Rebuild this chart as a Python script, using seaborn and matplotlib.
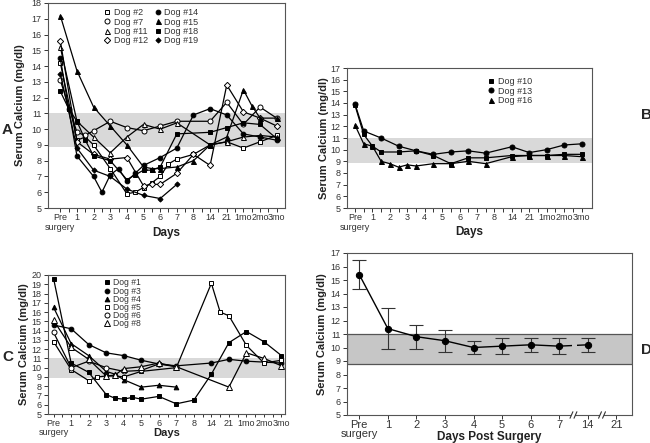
import numpy as np
import pandas as pd
import matplotlib
matplotlib.use('Agg')
import matplotlib.pyplot as plt
import seaborn as sns
from matplotlib.lines import Line2D
from matplotlib.patches import Rectangle
import matplotlib.transforms as mtransforms

sns.set_theme(style='ticks')
plt.rcParams['font.family'] = ['Liberation Sans', 'DejaVu Sans']

day_labels = ['Pre\nsurgery', '1', '2', '3', '4', '5', '6', '7', '8', '14', '21', '1mo', '2mo', '3mo']
d_labels = ['Pre\nsurgery', '1', '2', '3', '4', '5', '6', '7', '14', '21']

# ---------------- Panel A ----------------
a_dog2_x = [0, 1, 1.5, 2, 3, 4, 4.5, 5, 5.5, 6, 6.5, 7, 8, 9, 10, 11, 12, 13]
a_dog2_y = [14.2, 9.3, 9.5, 9.0, 7.5, 5.9, 6.0, 6.3, 6.6, 7.0, 7.8, 8.1, 8.4, 9.0, 9.2, 8.8, 9.2, 9.6]
a_dog7_x = [0, 1, 1.5, 2, 3, 4, 5, 6, 7, 9, 10, 11, 12, 13]
a_dog7_y = [13.1, 9.8, 9.6, 9.9, 10.5, 10.1, 9.9, 10.2, 10.5, 10.5, 11.7, 10.3, 11.4, 10.7]
a_dog11_x = [0, 1, 2, 3, 4, 5, 6, 7, 9, 10, 11, 12, 13]
a_dog11_y = [15.2, 10.5, 9.5, 8.5, 9.5, 10.3, 10.0, 10.4, 9.0, 9.2, 9.5, 9.6, 9.5]
a_dog12_x = [0, 1, 2, 3, 4, 5, 5.5, 6, 7, 8, 9, 10, 11, 12, 13]
a_dog12_y = [15.6, 9.2, 8.4, 8.1, 8.2, 6.4, 6.5, 6.5, 7.2, 8.4, 7.7, 12.8, 11.1, 10.7, 10.2]
a_dog14_x = [0, 0.5, 1, 2, 2.5, 3, 3.5, 4, 4.5, 5, 6, 7, 8, 9, 10, 11, 12, 13]
a_dog14_y = [14.5, 11.3, 8.3, 7.0, 6.0, 7.1, 7.5, 6.7, 7.2, 7.7, 8.2, 8.8, 10.9, 11.3, 10.9, 9.7, 9.5, 9.3]
a_dog15_x = [0, 1, 2, 3, 4, 5, 5.5, 6, 7, 8, 9, 10, 11, 11.5, 12, 13]
a_dog15_y = [17.2, 13.7, 11.4, 10.2, 9.0, 7.6, 7.5, 7.5, 7.6, 8.0, 9.0, 9.5, 12.5, 11.5, 10.7, 10.7]
a_dog18_x = [0, 0.5, 1, 1.5, 2, 3, 4, 4.5, 5, 5.5, 6, 7, 9, 10, 11, 12, 13]
a_dog18_y = [12.4, 11.3, 10.5, 9.3, 8.3, 8.0, 6.8, 7.1, 7.4, 7.4, 7.6, 9.7, 9.8, 10.1, 10.4, 10.3, 9.4]
a_dog19_x = [0, 1, 2, 3, 4, 5, 6, 7]
a_dog19_y = [13.5, 8.8, 7.4, 7.0, 6.2, 5.8, 5.6, 6.5]

# ---------------- Panel B ----------------
b_dog10_x = [0, 0.5, 1, 1.5, 2.5, 3.5, 4.5, 5.5, 6.5, 7.5, 9, 10, 11, 12, 13]
b_dog10_y = [13.8, 11.3, 10.3, 9.8, 9.8, 9.9, 9.5, 8.8, 9.3, 9.3, 9.5, 9.5, 9.5, 9.6, 9.6]
b_dog13_x = [0, 0.5, 1.5, 2.5, 3.5, 4.5, 5.5, 6.5, 7.5, 9, 10, 11, 12, 13]
b_dog13_y = [13.9, 11.6, 11.0, 10.3, 9.9, 9.6, 9.8, 9.9, 9.7, 10.25, 9.75, 10.0, 10.4, 10.5]
b_dog16_x = [0, 0.5, 1, 1.5, 2, 2.5, 3, 3.5, 4.5, 5.5, 6.5, 7.5, 9, 10, 11, 12, 13]
b_dog16_y = [12.1, 10.5, 10.3, 9.0, 8.8, 8.5, 8.7, 8.6, 8.8, 8.8, 9.0, 8.8, 9.4, 9.5, 9.5, 9.5, 9.4]

# ---------------- Panel C ----------------
c_dog1_x = [0, 1, 2, 3, 3.5, 4, 4.5, 5, 6, 7, 8, 9, 10, 11, 12, 13]
c_dog1_y = [19.6, 10.5, 9.5, 7.1, 6.7, 6.6, 6.8, 6.6, 6.9, 6.1, 6.5, 9.3, 12.7, 13.9, 12.8, 11.3]
c_dog3_x = [0, 1, 2, 3, 4, 5, 6, 7, 9, 10, 11, 13]
c_dog3_y = [14.6, 14.2, 12.5, 11.6, 11.3, 10.8, 10.4, 10.2, 10.5, 10.9, 10.7, 10.5]
c_dog4_x = [0, 1, 2, 3, 3.5, 4, 5, 6, 7]
c_dog4_y = [16.5, 12.6, 11.3, 9.6, 9.3, 8.7, 7.9, 8.1, 7.9]
c_dog5_x = [0, 1, 2, 2.5, 3, 3.5, 4, 5, 7, 9, 9.5, 10, 11, 12, 13]
c_dog5_y = [12.8, 9.8, 8.6, 9.0, 9.1, 9.1, 9.0, 9.6, 10.0, 19.1, 16.0, 15.6, 12.4, 10.5, 10.8]
c_dog6_x = [0, 1, 2, 3, 4, 5, 6, 7]
c_dog6_y = [13.8, 10.0, 10.7, 10.0, 9.6, 9.7, 10.4, 10.1]
c_dog8_x = [0, 1, 2, 3, 3.5, 4, 5, 6, 7, 10, 11, 12, 13]
c_dog8_y = [15.1, 12.2, 10.9, 9.1, 9.2, 9.9, 10.1, 10.5, 10.1, 7.9, 11.6, 11.0, 10.2]

# ---------------- Panel D ----------------
d_x = [0, 1, 2, 3, 4, 5, 6, 7, 8]
d_mean = [15.4, 11.4, 10.8, 10.5, 10.0, 10.1, 10.2, 10.1, 10.2]
d_low = [14.3, 9.9, 9.9, 9.7, 9.5, 9.5, 9.7, 9.5, 9.7]
d_high = [16.5, 12.9, 11.7, 11.3, 10.5, 10.7, 10.7, 10.7, 10.7]

W, H = 650, 443
fig = plt.figure(figsize=(6.5, 4.43), dpi=100)


def ax_px(l, r, t, b):
    return fig.add_axes([l / W, (H - b) / H, (r - l) / W, (b - t) / H])


def series(ax, x, y, marker, filled, ms=3.4):
    sns.lineplot(x=x, y=y, ax=ax, color='black', lw=0.9, marker=marker,
                 markersize=ms, markerfacecolor='black' if filled else 'white',
                 markeredgecolor='black', markeredgewidth=0.7, sort=False,
                 estimator=None, zorder=3)


def style_axes(ax, ymin, ymax, xlim, labels, ylab_x, xlab_y, lab_fs=6.5, ytick_fs=6.5, tl=3):
    ax.axhspan(8.9, 11.0, color='#d9d9d9', lw=0, zorder=0)
    ax.set_ylim(ymin, ymax)
    ax.set_xlim(*xlim)
    ax.set_yticks(np.arange(ymin, ymax + 1, 1))
    ax.set_xticks(np.arange(len(labels)))
    ax.set_xticklabels(labels, fontsize=lab_fs, color='#333', linespacing=1.05)
    ax.tick_params(axis='y', labelsize=ytick_fs, colors='#333', length=3, width=0.7, pad=1.5)
    ax.tick_params(axis='x', length=tl, width=0.7, pad=0.8, colors='#333')
    ax.set_xticks(np.arange(0.5, len(labels) - 1, 1), minor=True)
    ax.tick_params(axis='x', which='minor', length=tl, width=0.7, color='#333')
    for s in ax.spines.values():
        s.set_color('#555')
        s.set_linewidth(0.8)
    ax.set_ylabel('Serum Calcium (mg/dl)', fontsize=8, fontweight='bold', color='#222')
    ax.yaxis.set_label_coords(ylab_x, 0.5)
    ax.set_xlabel('Days', fontsize=8.5, fontweight='bold', color='#222')
    ax.xaxis.set_label_coords(0.5, xlab_y)


def legend(ax, entries, ncol, loc_xy, fs=6.5, ls=0.05):
    handles = [Line2D([], [], ls='none', marker=m, color='black', markersize=ms,
                      markerfacecolor='black' if f else 'white', markeredgecolor='black',
                      markeredgewidth=0.7) for (lab, m, f, ms) in entries]
    labels = [e[0] for e in entries]
    lg = ax.legend(handles, labels, ncol=ncol, loc='upper left', bbox_to_anchor=loc_xy,
                   frameon=False, fontsize=fs, handlelength=0.8, handletextpad=0.3,
                   labelspacing=ls, columnspacing=0.7, borderpad=0, borderaxespad=0)
    for t in lg.get_texts():
        t.set_color('#333')


# ---- A ----
axA = ax_px(48, 285, 3, 208)
style_axes(axA, 5, 18, (-0.74, 13.5), day_labels, -0.095, -0.095)
series(axA, a_dog2_x, a_dog2_y, 's', False, 3.2)
series(axA, a_dog7_x, a_dog7_y, 'o', False, 3.6)
series(axA, a_dog11_x, a_dog11_y, '^', False, 3.6)
series(axA, a_dog12_x, a_dog12_y, 'D', False, 3.2)
series(axA, a_dog14_x, a_dog14_y, 'o', True, 3.4)
series(axA, a_dog15_x, a_dog15_y, '^', True, 3.6)
series(axA, a_dog18_x, a_dog18_y, 's', True, 2.8)
series(axA, a_dog19_x, a_dog19_y, 'D', True, 2.6)
legend(axA, [('Dog #2', 's', False, 3.2), ('Dog #7', 'o', False, 3.6),
             ('Dog #11', '^', False, 3.6), ('Dog #12', 'D', False, 3.2),
             ('Dog #14', 'o', True, 3.4), ('Dog #15', '^', True, 3.6),
             ('Dog #18', 's', True, 2.8), ('Dog #19', 'D', True, 2.6)],
       2, (0.235, 0.975))

# ---- B ----
axB = ax_px(347, 592, 68, 208)
style_axes(axB, 5, 17, (-0.46, 13.6), day_labels, -0.072, -0.125)
series(axB, b_dog10_x, b_dog10_y, 's', True, 3.0)
series(axB, b_dog13_x, b_dog13_y, 'o', True, 3.6)
series(axB, b_dog16_x, b_dog16_y, '^', True, 3.6)
legend(axB, [('Dog #10', 's', True, 3.0), ('Dog #13', 'o', True, 3.6),
             ('Dog #16', '^', True, 3.6)], 1, (0.575, 0.935))

# ---- C ----
axC = ax_px(48, 285, 275, 414)
style_axes(axC, 5, 20, (-0.32, 13.2), day_labels, -0.08, -0.1, tl=2.5)
axC.xaxis.label.set_fontsize(8)
series(axC, c_dog1_x, c_dog1_y, 's', True, 2.8)
series(axC, c_dog3_x, c_dog3_y, 'o', True, 3.4)
series(axC, c_dog4_x, c_dog4_y, '^', True, 3.4)
series(axC, c_dog5_x, c_dog5_y, 's', False, 3.4)
series(axC, c_dog6_x, c_dog6_y, 'o', False, 3.6)
series(axC, c_dog8_x, c_dog8_y, '^', False, 3.8)
legend(axC, [('Dog #1', 's', True, 2.8), ('Dog #3', 'o', True, 3.4),
             ('Dog #4', '^', True, 3.4), ('Dog #5', 's', False, 3.4),
             ('Dog #6', 'o', False, 3.6), ('Dog #8', '^', False, 3.8)],
       1, (0.235, 0.975), fs=6.2, ls=-0.1)

# ---- D ----
axD = ax_px(347, 632, 253, 415)
axD.axhspan(8.8, 11.0, facecolor='#c6c6c6', edgecolor='#555', lw=0.9, zorder=0)
axD.set_ylim(5, 17)
axD.set_xlim(-0.43, 9.55)
axD.set_yticks(np.arange(5, 18, 1))
axD.set_xticks(np.arange(len(d_labels)))
axD.set_xticklabels(d_labels, fontsize=8, color='#333', linespacing=0.95)
axD.tick_params(axis='y', labelsize=6.5, colors='#333', length=3, width=0.7, pad=1.5)
axD.tick_params(axis='x', length=3, width=0.7, pad=0.5, colors='#333')
for s in axD.spines.values():
    s.set_color('#555')
    s.set_linewidth(0.8)
axD.set_ylabel('Serum Calcium (mg/dl)', fontsize=8, fontweight='bold', color='#222')
axD.yaxis.set_label_coords(-0.07, 0.5)
axD.set_xlabel('Days Post Surgery', fontsize=8.5, fontweight='bold', color='#222')
axD.xaxis.set_label_coords(0.5, -0.1)
dm = np.array(d_mean)
axD.errorbar(d_x, d_mean, yerr=[dm - np.array(d_low), np.array(d_high) - dm], fmt='none',
             ecolor='#333', elinewidth=0.8, capsize=5, capthick=0.8, zorder=2)
sns.lineplot(x=d_x, y=d_mean, ax=axD, color='black', lw=1.0, marker='o', markersize=4.5,
             markeredgecolor='black', markerfacecolor='black', sort=False, estimator=None, zorder=3)
# break in the line between 7 and 14
axD.add_patch(Rectangle((7.45, 9.9), 0.18, 0.45, facecolor='#c6c6c6', edgecolor='none', zorder=4))
# axis break marks on the x axis
tr = mtransforms.blended_transform_factory(axD.transData, axD.transAxes)
for xb in (7.5, 8.5):
    axD.add_patch(Rectangle((xb - 0.07, -0.02), 0.14, 0.04, transform=tr, facecolor='white',
                            edgecolor='none', clip_on=False, zorder=5))
    for dx in (-0.07, 0.07):
        axD.plot([xb + dx - 0.05, xb + dx + 0.05], [-0.02, 0.02], transform=tr, color='#333',
                 lw=0.8, clip_on=False, zorder=6)

# panel letters
for lab, x, y in (('A', 7, 130), ('B', 646, 115), ('C', 8, 357), ('D', 646, 350)):
    fig.text(x / W, 1 - y / H, lab, fontsize=11, fontweight='bold', ha='center', va='center')

fig.savefig('out.png', dpi=100)
